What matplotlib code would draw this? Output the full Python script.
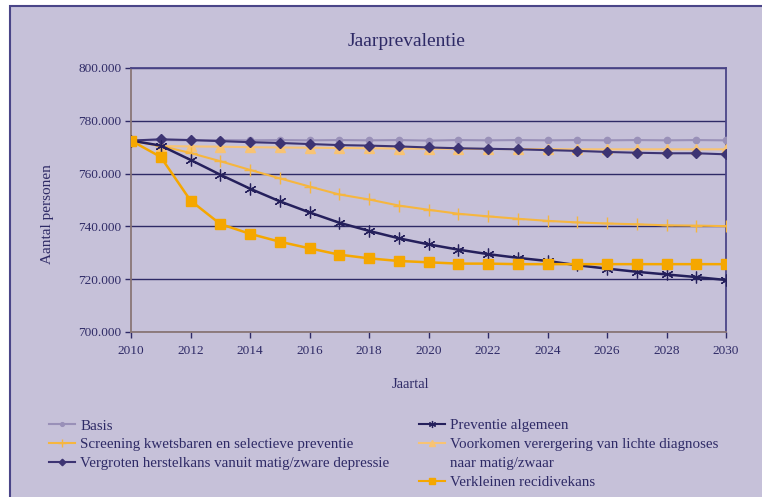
import matplotlib
matplotlib.use("Agg")
import matplotlib.pyplot as plt
from matplotlib.patches import Rectangle
from matplotlib.lines import Line2D

years = list(range(2010, 2031))

basis = [772.6, 772.7, 772.6, 772.7, 772.6, 772.7, 772.6, 772.7, 772.6, 772.7, 772.5,
         772.7, 772.6, 772.7, 772.6, 772.7, 772.6, 772.7, 772.6, 772.7, 772.6]
screening = [772.5, 770.5, 767.8, 764.7, 761.4, 758.2, 755.1, 752.1, 750.2, 747.9, 746.3,
             744.8, 743.8, 742.9, 742.1, 741.5, 741.1, 740.8, 740.4, 740.3, 740.1]
herstel = [772.5, 773.0, 772.7, 772.3, 771.9, 771.6, 771.2, 770.8, 770.6, 770.3, 769.9,
           769.6, 769.4, 769.2, 768.9, 768.6, 768.2, 767.9, 767.7, 767.7, 767.3]
preventie = [772.5, 770.6, 765.2, 759.6, 754.3, 749.5, 745.3, 741.4, 738.3, 735.5, 733.2,
             731.2, 729.5, 728.1, 726.9, 725.3, 724.0, 722.8, 721.8, 720.8, 719.7]
voorkomen = [772.5, 770.4, 770.3, 770.2, 770.0, 769.9, 769.8, 769.7, 769.6, 769.5, 769.4,
             769.4, 769.3, 769.3, 769.3, 769.2, 769.2, 769.2, 769.2, 769.2, 769.2]
recidive = [772.5, 766.3, 749.8, 740.9, 737.2, 734.2, 731.7, 729.3, 727.9, 726.9, 726.4,
            725.9, 725.9, 725.7, 725.7, 725.7, 725.7, 725.7, 725.7, 725.7, 725.7]

yticks = [700000, 720000, 740000, 760000, 780000, 800000]
ytick_labels = ["700.000", "720.000", "740.000", "760.000", "780.000", "800.000"]
xticks = list(range(2010, 2031, 2))

bg = "#c6c1d9"
navy = "#2e2a66"
plt.rcParams["font.family"] = ["Liberation Serif", "DejaVu Serif"]

W, H = 762, 497
fig = plt.figure(figsize=(W / 100, H / 100), dpi=100)
fig.patch.set_facecolor("white")
fig.patches.append(Rectangle((10 / W, -0.1), 1.2, 1 - 6 / H + 0.1, transform=fig.transFigure,
                             facecolor=bg, edgecolor="#4a4588", linewidth=1.5, zorder=-10))

ax = fig.add_axes([131 / W, 1 - 332 / H, (726 - 131) / W, (332 - 68) / H])
ax.set_zorder(1)
ax.set_facecolor(bg)

def k(vals):
    return [v * 1000 for v in vals]

ax.plot(years, k(basis), color="#9990b8", marker="o", markersize=4.5, linewidth=1.5,
        label="Basis", zorder=3)
ax.plot(years, k(voorkomen), color="#f8c373", marker="^", markersize=7, linewidth=1.5,
        label="Voorkomen verergering van lichte diagnoses", zorder=4)
ax.plot(years, k(herstel), color="#3d3473", marker="D", markersize=5.5, linewidth=1.5,
        label="Vergroten herstelkans vanuit matig/zware depressie", zorder=5)
ax.plot(years, k(screening), color="#f6b63f", marker="+", markersize=9, markeredgewidth=1,
        linewidth=1.5, label="Screening kwetsbaren en selectieve preventie", zorder=4)
ax.plot(years, k(preventie), color="#25205c", marker=(6, 2, 0), markersize=8.5,
        markeredgewidth=0.9, linewidth=1.8, label="Preventie algemeen", zorder=5)
ax.plot(years, k(recidive), color="#f5a700", marker="s", markersize=6.5, linewidth=1.8,
        label="Verkleinen recidivekans", zorder=6)

ax.set_xlim(2010, 2030)
ax.set_ylim(700000, 800000)
ax.set_yticks(yticks)
ax.set_yticklabels(ytick_labels)
ax.set_xticks(xticks)
ax.grid(axis="y", color=navy, linewidth=1.0, zorder=1)
ax.set_axisbelow(True)
ax.tick_params(axis="both", labelsize=9.5, colors=navy, length=4, width=1)
ax.tick_params(axis="y", pad=3)
ax.tick_params(axis="x", pad=5)
for s in ["top", "right"]:
    ax.spines[s].set_color("#4a4588")
    ax.spines[s].set_linewidth(1.3)
for s in ["left", "bottom"]:
    ax.spines[s].set_color("#8a7676")
    ax.spines[s].set_linewidth(1.3)

fig.text(407 / W, 1 - 42 / H, "Jaarprevalentie", ha="center", va="center", fontsize=14, color=navy)
fig.text(411 / W, 1 - 384 / H, "Jaartal", ha="center", va="center", fontsize=10.5, color=navy)
fig.text(48 / W, 1 - 214 / H, "Aantal personen", ha="center", va="center", rotation=90,
         fontsize=11, color=navy)

# legend, built by hand in two columns
lines = {l.get_label(): l for l in ax.get_lines()}

def handle(name):
    l = lines[name]
    return Line2D([], [], color=l.get_color(), marker=l.get_marker(),
                  markersize=l.get_markersize() * 0.6, linewidth=1.5,
                  markeredgewidth=l.get_markeredgewidth())

left_names = ["Basis", "Screening kwetsbaren en selectieve preventie",
              "Vergroten herstelkans vanuit matig/zware depressie"]
right_names = ["Preventie algemeen", "Voorkomen verergering van lichte diagnoses",
               None, "Verkleinen recidivekans"]
right_labels = ["Preventie algemeen", "Voorkomen verergering van lichte diagnoses",
                "naar matig/zwaar", "Verkleinen recidivekans"]

leg_kw = dict(frameon=False, fontsize=10.8, handlelength=1.7, handletextpad=0.4,
              labelspacing=0.36, borderaxespad=0, borderpad=0, labelcolor=navy)
leg1 = fig.legend([handle(n) for n in left_names], left_names, loc="upper left",
                  bbox_to_anchor=(49 / W, 1 - 419 / H), **leg_kw)
rh = [handle(n) if n else Line2D([], [], linestyle="none") for n in right_names]
leg2 = fig.legend(rh, right_labels, loc="upper left",
                  bbox_to_anchor=(419 / W, 1 - 419 / H), **leg_kw)

fig.savefig("out.png", dpi=100, facecolor=fig.get_facecolor())
